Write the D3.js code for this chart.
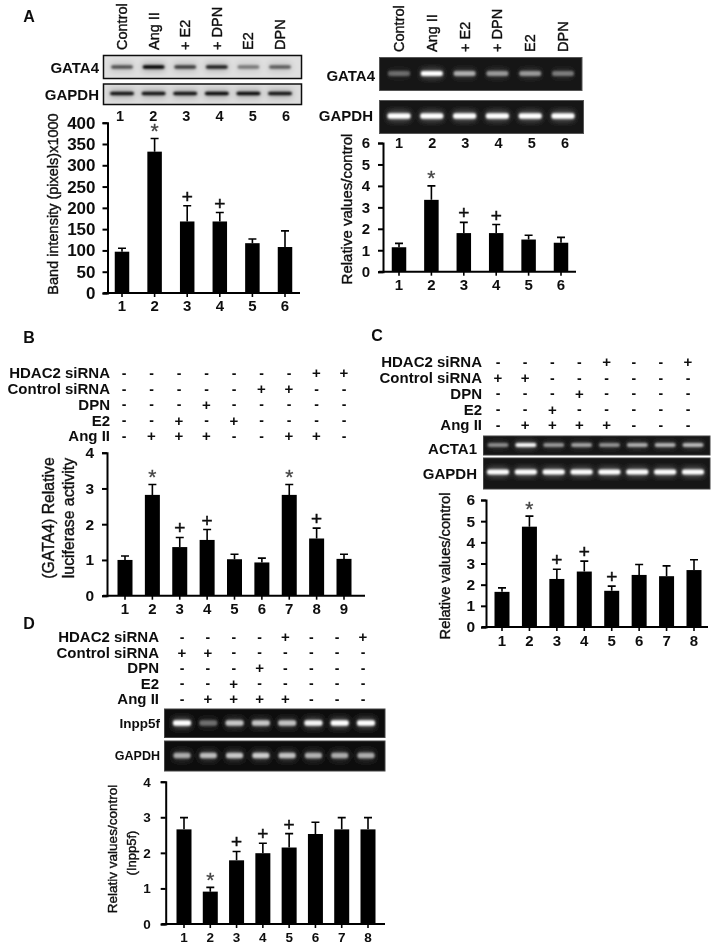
<!DOCTYPE html>
<html>
<head>
<meta charset="utf-8">
<script src="https://cdn.jsdelivr.net/npm/d3@7/dist/d3.min.js"></script>
<style>
  html, body { margin: 0; padding: 0; background: #fff; }
  svg { display: block; }
  text { font-family: "Liberation Sans", Arial, sans-serif; fill: #111; }
</style>
</head>
<body>
<svg id="fig" width="712" height="945"></svg>
<script>
// --- DATA ---
const aTreatments = ["Control", "Ang II", "+ E2", "+ DPN", "E2", "DPN"];
const lanes6 = ["1", "2", "3", "4", "5", "6"];
const lanes8 = ["1", "2", "3", "4", "5", "6", "7", "8"];
const lanes9 = ["1", "2", "3", "4", "5", "6", "7", "8", "9"];
const conditionNames = ["HDAC2 siRNA", "Control siRNA", "DPN", "E2", "Ang II"];

const aLeftValues = [97, 332, 168, 168, 117, 108];
const aLeftUpper = [105, 363, 205, 189, 127, 146];
const aLeftMarks = ["", "*", "+", "+", "", ""];
const aLeftTicks = [0, 50, 100, 150, 200, 250, 300, 350, 400];

const aRightValues = [1.14, 3.35, 1.8, 1.8, 1.5, 1.35];
const aRightUpper = [1.32, 4.0, 2.3, 2.2, 1.7, 1.6];
const aRightMarks = ["", "*", "+", "+", "", ""];

const bValues = [1.0, 2.82, 1.36, 1.56, 1.02, 0.93, 2.82, 1.6, 1.03];
const bUpper = [1.11, 3.11, 1.63, 1.85, 1.16, 1.05, 3.11, 1.89, 1.16];
const bMarks = ["", "*", "+", "+", "", "", "*", "+", ""];
const bConditions = ["-------++", "-----++--", "---+-----", "--+-+----", "-+++--++-"];

const cValues = [1.66, 4.74, 2.27, 2.62, 1.71, 2.46, 2.4, 2.69];
const cUpper = [1.85, 5.24, 2.73, 3.11, 1.93, 2.95, 2.89, 3.18];
const cMarks = ["", "*", "+", "+", "+", "", "", ""];
const cConditions = ["----+--+", "++------", "---+----", "--+-----", "-++++---"];

const dValues = [2.66, 0.91, 1.79, 1.99, 2.15, 2.53, 2.66, 2.66];
const dUpper = [2.99, 1.03, 2.04, 2.27, 2.54, 2.86, 2.99, 2.99];
const dMarks = ["", "*", "+", "+", "+", "", "", ""];
const dConditions = ["----+--+", "++------", "---+----", "--+-----", "-++++---"];

const ticks0to6 = [0, 1, 2, 3, 4, 5, 6];
const ticks0to4 = [0, 1, 2, 3, 4];

// band strength per lane, 0..1
const aLeftGata = [0.6, 1, 0.7, 0.85, 0.42, 0.55];
const aLeftGapdh = [0.9, 0.9, 0.9, 0.95, 0.95, 0.9];
const aRightGata = [0.32, 1, 0.6, 0.5, 0.5, 0.38];
const aRightGapdh = [1, 1, 1, 1, 1, 1];
const cActa = [0.45, 0.95, 0.5, 0.55, 0.48, 0.6, 0.62, 0.65];
const cGapdh = [1, 1, 1, 1, 1, 1, 1, 1];
const dInpp = [1, 0.35, 0.72, 0.72, 0.7, 0.95, 1, 1];
const dGapdh = [0.6, 0.68, 0.72, 0.75, 0.7, 0.62, 0.6, 0.6];

// --- SETUP ---
const svg = d3.select("#fig");
const defs = svg.append("defs");
function addBlur(id, sd) {
    defs.append("filter").attr("id", id)
        .attr("x", "-30%").attr("y", "-100%").attr("width", "160%").attr("height", "300%")
        .append("feGaussianBlur").attr("stdDeviation", sd);
}
addBlur("soft", 0.45);
addBlur("band", 1.0);
addBlur("glow", 3);

const root = svg.append("g").attr("filter", "url(#soft)");

function label(g, txt, x, y, size, opts = {}) {
    return g.append("text")
        .attr("transform", `translate(${x},${y})` + (opts.rotate ? " rotate(-90)" : ""))
        .attr("text-anchor", opts.anchor || "middle")
        .attr("dy", "0.35em")
        .attr("font-size", size)
        .attr("font-weight", opts.weight || "bold")
        .attr("stroke", opts.stroke ? "#111" : "none")
        .attr("stroke-width", opts.stroke || 0)
        .text(txt);
}

// --- PANEL FUNCTIONS ---
function drawBars(cfg) {
    const g = root.append("g");
    const n = cfg.lanes.length;
    const step = (cfg.last - cfg.first) / (n - 1);
    const x = d3.scaleBand().domain(cfg.lanes)
        .range([cfg.first - step / 2, cfg.last + step / 2])
        .paddingInner(1 - cfg.barW / step).paddingOuter((1 - cfg.barW / step) / 2);
    const y = d3.scaleLinear().domain([0, d3.max(cfg.ticks)]).range([cfg.y0, cfg.yTop]);
    const mid = i => x(cfg.lanes[i]) + x.bandwidth() / 2;

    g.selectAll(".err").data(cfg.values).join("path")
        .attr("d", (d, i) => `M${mid(i)},${y(d)}V${y(cfg.upper[i])}M${mid(i) - 4},${y(cfg.upper[i])}H${mid(i) + 4}`)
        .attr("stroke", "#000").attr("stroke-width", 1.6).attr("fill", "none");

    g.selectAll(".bar").data(cfg.values).join("rect")
        .attr("x", (d, i) => x(cfg.lanes[i]))
        .attr("y", d => y(d))
        .attr("width", x.bandwidth())
        .attr("height", d => cfg.y0 - y(d))
        .attr("fill", "#000");

    // left axis
    const yAxis = g.append("g").attr("transform", `translate(${cfg.axisX},0)`)
        .call(d3.axisLeft(y).tickValues(cfg.ticks).tickFormat(d3.format("d")).tickSize(5).tickPadding(cfg.yPad));
    yAxis.select(".domain").attr("stroke", "#000").attr("stroke-width", 2);
    yAxis.selectAll(".tick line").attr("stroke", "#000").attr("stroke-width", 2);
    yAxis.selectAll("text").attr("font-size", cfg.tickSize).attr("font-weight", "bold")
        .style("font-family", '"Liberation Sans"').attr("fill", "#111");

    // bottom axis
    const xAxis = g.append("g").attr("transform", `translate(0,${cfg.y0})`)
        .call(d3.axisBottom(x).tickSize(4).tickPadding(cfg.xPad));
    xAxis.select(".domain").remove();
    xAxis.append("line").attr("x1", cfg.axisX - 4).attr("x2", cfg.xEnd)
        .attr("stroke", "#000").attr("stroke-width", 2);
    xAxis.selectAll(".tick line").attr("stroke", "#000").attr("stroke-width", 1.6);
    xAxis.selectAll("text").attr("font-size", cfg.xSize || 15).attr("font-weight", "bold")
        .style("font-family", '"Liberation Sans"').attr("fill", "#111");

    // significance marks above the error bars
    cfg.marks.forEach((m, i) => {
        if (m === "*") {
            g.append("text").attr("x", mid(i)).attr("y", y(cfg.upper[i]) - 0.5)
                .attr("text-anchor", "middle").attr("font-size", 21)
                .attr("stroke", "#444").attr("stroke-width", 0.3)
                .style("fill", "#444").text("*");
        } else if (m === "+") {
            g.append("text").attr("x", mid(i)).attr("y", y(cfg.upper[i]) - 3)
                .attr("text-anchor", "middle").attr("font-size", 19)
                .attr("stroke", "#111").attr("stroke-width", 0.5).text("+");
        }
    });
}

function drawGel(cfg) {
    const g = root.append("g");
    const x = d3.scalePoint().domain(d3.range(cfg.bands.length)).range([cfg.first, cfg.last]);
    g.append("rect").attr("x", cfg.x).attr("y", cfg.y).attr("width", cfg.w).attr("height", cfg.h)
        .attr("fill", cfg.bg).attr("stroke", cfg.edge).attr("stroke-width", cfg.edgeW || 1);
    const clipId = "clip" + Math.round(cfg.x) + "_" + Math.round(cfg.y);
    defs.append("clipPath").attr("id", clipId).append("rect")
        .attr("x", cfg.x).attr("y", cfg.y).attr("width", cfg.w).attr("height", cfg.h);
    const inner = g.append("g").attr("clip-path", `url(#${clipId})`);

    inner.selectAll(".glow").data(cfg.bands).join("rect")
        .attr("x", (d, i) => x(i) - cfg.bandW / 2).attr("y", cfg.bandY - cfg.bandH)
        .attr("width", cfg.bandW).attr("height", cfg.bandH * 2)
        .attr("fill", cfg.ink).attr("opacity", d => d * 0.28).attr("filter", "url(#glow)");
    inner.selectAll(".band").data(cfg.bands).join("rect")
        .attr("x", (d, i) => x(i) - cfg.bandW / 2).attr("y", cfg.bandY - cfg.bandH / 2)
        .attr("width", cfg.bandW).attr("height", cfg.bandH).attr("rx", 2)
        .attr("fill", cfg.ink).attr("opacity", d => d).attr("filter", "url(#band)");
}

function drawConditions(cfg) {
    const g = root.append("g");
    const n = cfg.rows[0].length;
    const x = d3.scalePoint().domain(d3.range(n)).range([cfg.first, cfg.last]);
    const y = d3.scalePoint().domain(conditionNames).range([cfg.yFirst, cfg.yLast]);
    conditionNames.forEach((name, r) => {
        label(g, name, cfg.labelX, y(name), cfg.size, { anchor: "end" });
        g.selectAll(".sign" + r).data(cfg.rows[r].split("")).join("text")
            .attr("x", (d, i) => x(i))
            .attr("y", y(name))
            .attr("dy", "0.35em")
            .attr("text-anchor", "middle")
            .attr("font-size", d => d === "+" ? 15 : 14)
            .attr("font-weight", "bold")
            .text(d => d);
    });
}

// --- PANEL A ---
label(root, "A", 29, 16, 16);
const aLeftLaneX = d3.scalePoint().domain(aTreatments).range([122, 280]);
aTreatments.forEach(t => label(root, t, aLeftLaneX(t), 50, 14.5, { rotate: true, anchor: "start", weight: "normal", stroke: 0.4 }));
drawGel({ x: 103.5, y: 55.5, w: 198, h: 23, bg: "#dfdfdf", edge: "#111", edgeW: 1.5, ink: "#000",
    bands: aLeftGata, first: 122, last: 280, bandY: 67, bandW: 22, bandH: 3.5 });
drawGel({ x: 103.5, y: 84, w: 198, h: 20.5, bg: "#dcdcdc", edge: "#111", edgeW: 1.5, ink: "#000",
    bands: aLeftGapdh, first: 122, last: 280, bandY: 93.5, bandW: 24, bandH: 3.5 });
label(root, "GATA4", 99, 68, 15, { anchor: "end" });
label(root, "GAPDH", 99, 95, 15, { anchor: "end" });
const aLeftTop = d3.scalePoint().domain(lanes6).range([120, 286]);
lanes6.forEach(l => label(root, l, aLeftTop(l), 116, 14.5));
drawBars({ lanes: lanes6, values: aLeftValues, upper: aLeftUpper, marks: aLeftMarks, ticks: aLeftTicks,
    first: 122, last: 285, barW: 14.5, axisX: 107.5, xEnd: 300, y0: 293, yTop: 122.7, tickSize: 17, yPad: 7, xPad: 3 });
label(root, "Band intensity (pixels)x1000", 53, 204, 14.5, { rotate: true, weight: "normal", stroke: 0.4 });

const aRightLaneX = d3.scalePoint().domain(aTreatments).range([399, 563]);
aTreatments.forEach(t => label(root, t, aRightLaneX(t), 52, 14.5, { rotate: true, anchor: "start", weight: "normal", stroke: 0.4 }));
drawGel({ x: 379.5, y: 57.5, w: 202.5, h: 33, bg: "#141414", edge: "#555", ink: "#fff",
    bands: aRightGata, first: 399, last: 563, bandY: 73.5, bandW: 22, bandH: 5 });
drawGel({ x: 379.5, y: 100.5, w: 204, h: 33, bg: "#141414", edge: "#555", ink: "#fff",
    bands: aRightGapdh, first: 399, last: 563, bandY: 116, bandW: 23, bandH: 5.5 });
label(root, "GATA4", 375, 76, 15, { anchor: "end" });
label(root, "GAPDH", 373, 116, 15, { anchor: "end" });
const aRightTop = d3.scalePoint().domain(lanes6).range([399, 565]);
lanes6.forEach(l => label(root, l, aRightTop(l), 143, 14.5));
drawBars({ lanes: lanes6, values: aRightValues, upper: aRightUpper, marks: aRightMarks, ticks: ticks0to6,
    first: 399, last: 561, barW: 14.5, axisX: 383, xEnd: 576, y0: 271.7, yTop: 143, tickSize: 15, yPad: 8, xPad: 4 });
label(root, "Relative values/control", 347, 209, 15, { rotate: true, weight: "normal", stroke: 0.4 });

// --- PANEL B ---
label(root, "B", 29, 337, 16);
drawConditions({ rows: bConditions, first: 124, last: 344, yFirst: 373, yLast: 436, labelX: 110, size: 15 });
drawBars({ lanes: lanes9, values: bValues, upper: bUpper, marks: bMarks, ticks: ticks0to4,
    first: 125, last: 344, barW: 15, axisX: 107, xEnd: 365, y0: 595.7, yTop: 452.7, tickSize: 15.5, yPad: 8, xPad: 4 });
label(root, "(GATA4) Relative", 48, 518, 15.8, { rotate: true, weight: "normal", stroke: 0.4 });
label(root, "luciferase activity", 68, 518, 15.8, { rotate: true, weight: "normal", stroke: 0.4 });

// --- PANEL C ---
label(root, "C", 377, 335, 16);
drawConditions({ rows: cConditions, first: 498, last: 688, yFirst: 362, yLast: 425, labelX: 482, size: 15 });
drawGel({ x: 483.5, y: 436, w: 226.5, h: 19, bg: "#141414", edge: "#444", ink: "#fff",
    bands: cActa, first: 498, last: 693, bandY: 445, bandW: 21, bandH: 4 });
drawGel({ x: 483.5, y: 458, w: 226.5, h: 31, bg: "#141414", edge: "#444", ink: "#fff",
    bands: cGapdh, first: 498, last: 693, bandY: 472, bandW: 22, bandH: 5 });
label(root, "ACTA1", 477, 449, 15, { anchor: "end" });
label(root, "GAPDH", 477, 474, 15, { anchor: "end" });
drawBars({ lanes: lanes8, values: cValues, upper: cUpper, marks: cMarks, ticks: ticks0to6,
    first: 502, last: 694, barW: 15, axisX: 486, xEnd: 708, y0: 627, yTop: 500, tickSize: 15.5, yPad: 6, xPad: 4 });
label(root, "Relative values/control", 445, 566, 14.6, { rotate: true, weight: "normal", stroke: 0.4 });

// --- PANEL D ---
label(root, "D", 29, 623, 16);
drawConditions({ rows: dConditions, first: 182, last: 363, yFirst: 637, yLast: 699, labelX: 159, size: 15 });
drawGel({ x: 164.5, y: 709, w: 220.5, h: 28.5, bg: "#0d0d0d", edge: "#444", ink: "#fff",
    bands: dInpp, first: 182, last: 366, bandY: 723, bandW: 18, bandH: 5.5 });
drawGel({ x: 164.5, y: 741, w: 220.5, h: 30, bg: "#0d0d0d", edge: "#444", ink: "#fff",
    bands: dGapdh, first: 182, last: 366, bandY: 755.5, bandW: 17, bandH: 5.5 });
label(root, "Inpp5f", 160, 723, 13.5, { anchor: "end" });
label(root, "GAPDH", 160, 756, 12.5, { anchor: "end" });
drawBars({ lanes: lanes8, values: dValues, upper: dUpper, marks: dMarks, ticks: ticks0to4,
    first: 184, last: 368, barW: 15, axisX: 165.7, xEnd: 385, y0: 924, yTop: 781.7, tickSize: 13.5, xSize: 13.5, yPad: 10, xPad: 4 });
label(root, "Relativ values/control", 112, 849, 13.5, { rotate: true, weight: "normal", stroke: 0.4 });
label(root, "(Inpp5f)", 131, 853, 13, { rotate: true, weight: "normal", stroke: 0.4 });
</script>
</body>
</html>
